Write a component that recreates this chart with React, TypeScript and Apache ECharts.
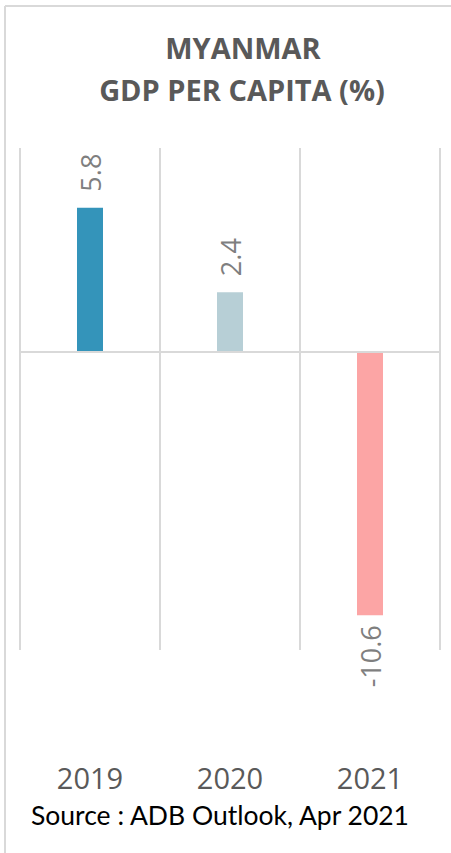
import React, { useEffect, useRef } from "react";
import * as echarts from "echarts";

const categories = ["2019", "2020", "2021"];
const values = [5.8, 2.4, -10.6];
const barColors = ["#3494ba", "#b7cfd6", "#fca5a5"];
const titleLines = ["MYANMAR", "GDP PER CAPITA (%)"];
const sourceText = "Source : ADB Outlook, Apr 2021";

export default function App() {
  const ref = useRef<HTMLDivElement>(null);
  useEffect(() => {
    if (!ref.current) return;
    const chart = echarts.init(ref.current, null, { renderer: "svg" });
    const font = "'Open Sans', 'Noto Sans', sans-serif";
    chart.setOption({
      animation: false,
      backgroundColor: "#ffffff",
      grid: { left: 20, right: 11, top: 148, bottom: 203, containLabel: false },
      xAxis: {
        type: "category",
        data: categories,
        axisLine: { show: false, onZero: false },
        axisTick: { show: false },
        splitLine: { show: true, lineStyle: { color: "#d9d9d9", width: 2 } },
        axisLabel: {
          margin: 113,
          fontSize: 29,
          fontFamily: font,
          color: "#595959",
        },
      },
      yAxis: {
        type: "value",
        min: -12,
        max: 8.2,
        show: false,
        splitLine: { show: false },
      },
      series: [
        {
          type: "bar",
          barWidth: 26,
          data: values.map((v, i) => ({
            value: v,
            itemStyle: { color: barColors[i] },
            label: {
              show: true,
              position: v >= 0 ? "top" : "bottom",
              rotate: 90,
              align: v >= 0 ? "left" : "right",
              verticalAlign: "middle",
              distance: v >= 0 ? 16 : 10,
              fontSize: 27,
              fontFamily: font,
              color: "#7f7f7f",
              formatter: (p: any) => String(p.value),
            },
          })),
          markLine: {
            silent: true,
            symbol: "none",
            label: { show: false },
            lineStyle: { color: "#d9d9d9", width: 2, type: "solid" },
            data: [{ yAxis: 0 }],
          },
        },
      ],
      graphic: [
        {
          type: "line",
          shape: { x1: 5, y1: 6, x2: 451, y2: 6 },
          style: { stroke: "#d9d9d9", lineWidth: 2 },
        },
        {
          type: "line",
          shape: { x1: 5, y1: 6, x2: 5, y2: 853 },
          style: { stroke: "#d9d9d9", lineWidth: 2 },
        },
        {
          type: "text",
          x: 243,
          y: 47,
          style: {
            text: titleLines[0],
            fontSize: 29,
            fontWeight: "bold",
            fontFamily: font,
            fill: "#595959",
            textAlign: "center",
            textVerticalAlign: "middle",
          },
        },
        {
          type: "text",
          x: 242,
          y: 89,
          style: {
            text: titleLines[1],
            fontSize: 29,
            fontWeight: "bold",
            fontFamily: font,
            fill: "#595959",
            textAlign: "center",
            textVerticalAlign: "middle",
          },
        },
        {
          type: "text",
          x: 220,
          y: 815,
          style: {
            text: sourceText,
            fontSize: 26.5,
            fontFamily: "Lato, 'Open Sans', sans-serif",
            fill: "#000000",
            textAlign: "center",
            textVerticalAlign: "middle",
          },
        },
      ],
    });
    return () => chart.dispose();
  }, []);
  return (
    <div
      ref={ref}
      style={{ position: "absolute", left: 0, top: 0, width: 451, height: 853 }}
    />
  );
}
